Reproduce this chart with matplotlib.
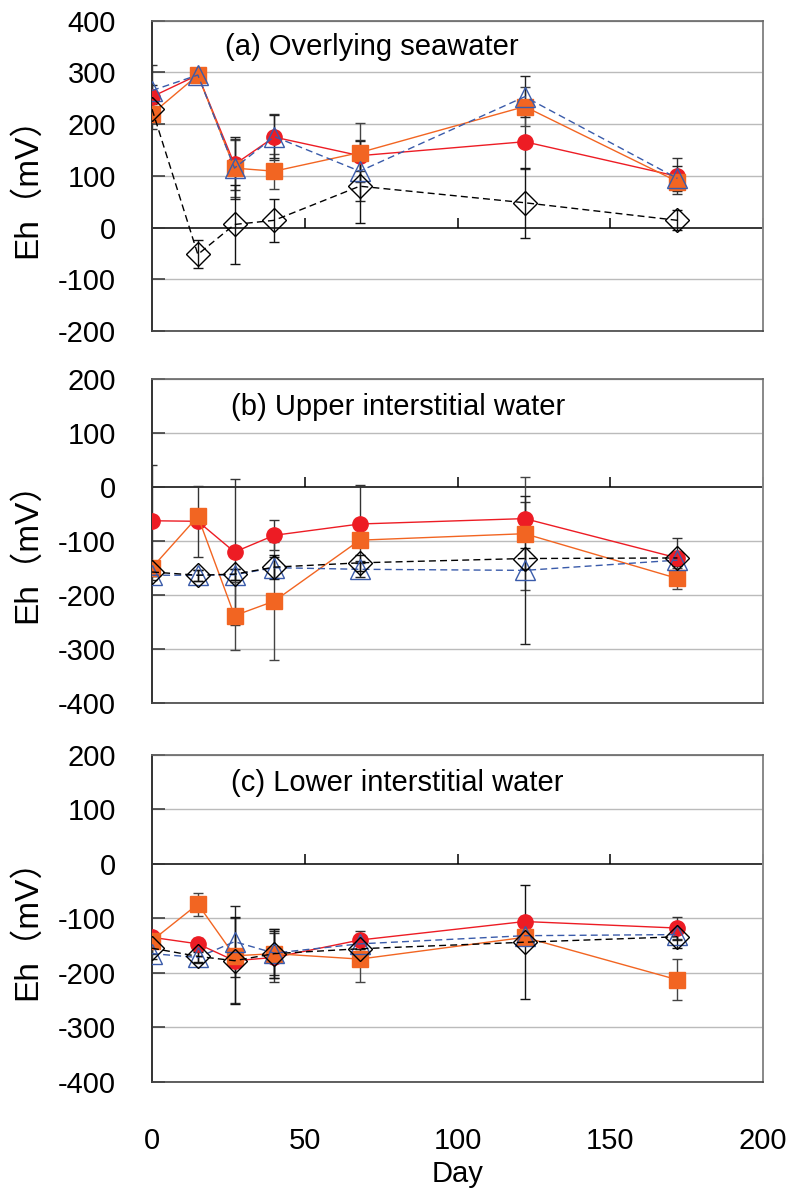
import matplotlib
matplotlib.use("Agg")
import matplotlib.pyplot as plt

plt.rcParams['font.family'] = ['Liberation Sans', 'Noto Sans CJK JP']
plt.rcParams['axes.unicode_minus'] = False

# sampling days
days = [0, 15, 27, 40, 68, 122, 172]

# (a) overlying seawater
a_circle = [253, 295, 122, 175, 139, 166, 99]
a_square = [220, 295, 115, 109, 145, 234, 89]
a_tri = [265, 295, 115, 176, 109, 253, 95]
a_diam = [229, -52, 6, 14, 80, 48, 14]
a_circle_err = [62, 8, 50, 45, 30, 52, 35]
a_square_err = [8, 5, 55, 34, 57, 37, 10]
a_tri_err = [10, 5, 60, 41, 58, 40, 25]
a_diam_err = [10, 27, 77, 42, 71, 68, 19]

# (b) upper interstitial water
b_circle = [-62, -63, -120, -89, -68, -58, -131]
b_square = [-149, -54, -238, -211, -98, -86, -169]
b_tri = [-163, -163, -162, -149, -152, -154, -135]
b_diam = [-157, -163, -161, -148, -140, -132, -131]
b_circle_err = [103, 66, 135, 28, 73, 30, 37]
b_square_err = [8, 10, 63, 109, 10, 105, 20]
b_tri_err = [8, 10, 10, 20, 15, 137, 10]
b_diam_err = [8, 10, 10, 22, 15, 20, 10]

# (c) lower interstitial water
c_circle = [-135, -147, -178, -172, -140, -106, -118]
c_square = [-141, -74, -169, -165, -175, -135, -213]
c_tri = [-165, -172, -143, -164, -147, -132, -130]
c_diam = [-155, -170, -178, -165, -156, -144, -134]
c_circle_err = [10, 10, 78, 45, 17, 10, 20]
c_square_err = [10, 21, 10, 45, 43, 10, 38]
c_tri_err = [10, 10, 65, 40, 10, 10, 10]
c_diam_err = [10, 10, 80, 45, 10, 105, 20]

titles = ["(a) Overlying seawater", "(b) Upper interstitial water", "(c) Lower interstitial water"]
x_ticks = [0, 50, 100, 150, 200]
y_ranges = [(-200, 400), (-400, 200), (-400, 200)]

panels = [
    [(a_circle, a_circle_err), (a_square, a_square_err), (a_tri, a_tri_err), (a_diam, a_diam_err)],
    [(b_circle, b_circle_err), (b_square, b_square_err), (b_tri, b_tri_err), (b_diam, b_diam_err)],
    [(c_circle, c_circle_err), (c_square, c_square_err), (c_tri, c_tri_err), (c_diam, c_diam_err)],
]

RED = "#ED1C24"
ORANGE = "#F26522"
BLUE = "#3A5BAA"
styles = [
    dict(marker="o", color=RED, mfc=RED, mec=RED, ms=11, ls="-"),
    dict(marker="s", color=ORANGE, mfc=ORANGE, mec=ORANGE, ms=11, ls="-"),
    dict(marker="^", color=BLUE, mfc="none", mec=BLUE, ms=14, ls=(0, (5, 3))),
    dict(marker="D", color="black", mfc="none", mec="black", ms=12.5, ls=(0, (5, 3))),
]
err_colors = ["#333333", "#444444", "#222222", "#111111"]

boxes = [
    [0.191, 0.7221, 0.7675, 0.2605],
    [0.191, 0.4097, 0.7675, 0.2717],
    [0.191, 0.0919, 0.7675, 0.2742],
]
title_x = [0.12, 0.13, 0.13]

fig = plt.figure(figsize=(7.96, 11.91), dpi=100)

for i, box in enumerate(boxes):
    ax = fig.add_axes(box)
    lo, hi = y_ranges[i]
    ax.set_xlim(0, 200)
    ax.set_ylim(lo, hi)
    yt = list(range(lo, hi + 1, 100))
    ax.set_yticks(yt)
    for v in yt:
        if v != 0:
            ax.axhline(v, color="#BBBBBB", lw=1.0, zorder=0)
    ax.axhline(0, color="black", lw=1.1, zorder=1)
    ax.plot(x_ticks[1:], [0] * 4, ls="none", marker=2, ms=7, mew=1.1, color="black", zorder=1)

    for (vals, err), st, ec in zip(panels[i], styles, err_colors):
        ax.errorbar(days, vals, yerr=err, fmt="none", ecolor=ec, elinewidth=1.0,
                    capsize=3.5, capthick=1.0, zorder=2)
    for (vals, err), st in zip(panels[i], styles):
        ax.plot(days, vals, lw=1.0, mew=1.0, zorder=3, **st)

    ax.spines["left"].set_color("#333333")
    ax.spines["left"].set_linewidth(1.4)
    ax.spines["bottom"].set_color("#444444")
    ax.spines["bottom"].set_linewidth(1.2)
    ax.spines["top"].set_color("#666666")
    ax.spines["top"].set_linewidth(1.2)
    ax.spines["right"].set_color("#888888")
    ax.spines["right"].set_linewidth(1.4)

    ax.tick_params(axis="y", direction="in", length=9, width=1.1, color="#333333",
                   labelsize=21, pad=26)
    ax.set_xticks(x_ticks)
    if i < 2:
        ax.tick_params(axis="x", length=0, labelbottom=False)
    else:
        ax.tick_params(axis="x", length=0, labelsize=21, pad=33)
        ax.set_xlabel("Day", fontsize=21, labelpad=3)

    ax.set_ylabel("Eh（mV）", fontsize=24)
    ax.yaxis.set_label_coords(-0.178, 0.49)
    ax.text(title_x[i], 0.915, titles[i], transform=ax.transAxes, fontsize=21,
            ha="left", va="center")

fig.savefig("out.png", dpi=100)
